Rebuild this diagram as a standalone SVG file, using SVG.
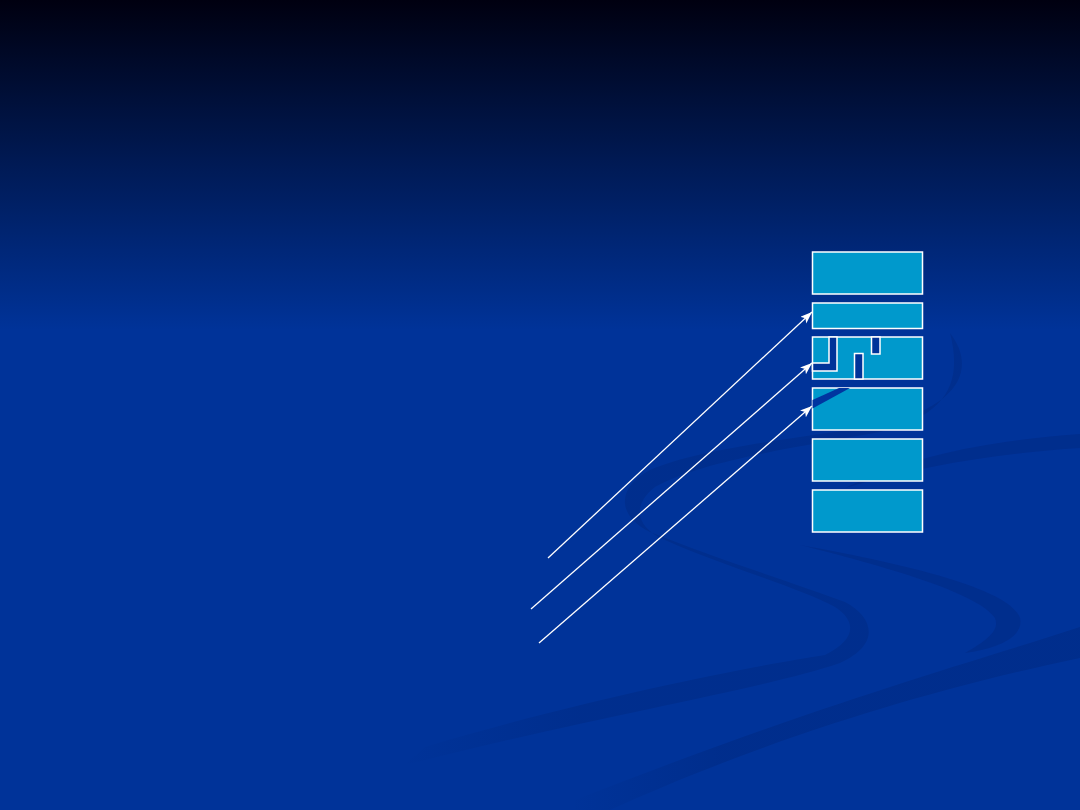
<svg xmlns="http://www.w3.org/2000/svg" width="1080" height="810" viewBox="0 0 1080 810">
  <defs>
    <linearGradient id="bg" x1="0" y1="0" x2="0" y2="330" gradientUnits="userSpaceOnUse">
      <stop offset="0" stop-color="#000010"/>
      <stop offset="0.5" stop-color="#001a55"/>
      <stop offset="1" stop-color="#003399"/>
    </linearGradient>
    <linearGradient id="fadeS" x1="400" y1="0" x2="580" y2="0" gradientUnits="userSpaceOnUse">
      <stop offset="0" stop-color="#002a84" stop-opacity="0"/>
      <stop offset="1" stop-color="#002a84" stop-opacity="0.55"/>
    </linearGradient>
    <linearGradient id="fadeB" x1="570" y1="0" x2="720" y2="0" gradientUnits="userSpaceOnUse">
      <stop offset="0" stop-color="#002a84" stop-opacity="0"/>
      <stop offset="1" stop-color="#002a84" stop-opacity="0.6"/>
    </linearGradient>
    <marker id="arrow" markerUnits="userSpaceOnUse" markerWidth="13" markerHeight="10" refX="12" refY="4.5" orient="auto">
      <path d="M0,0 L12,4.5 L0,9 L3,4.5 Z" fill="#ffffff"/>
    </marker>
    <style>
      .swoosh { fill: #002a84; fill-opacity: 0.55; stroke: none; }
      .box { fill: #0099cc; stroke: #ffffff; stroke-width: 1.5; }
      .crack { fill: #003399; stroke: #ffffff; stroke-width: 1.5; }
      .conn { stroke: #ffffff; stroke-width: 1.3; fill: none; marker-end: url(#arrow); }
    </style>
  </defs>

  <g id="background">
    <rect x="0" y="0" width="1080" height="810" fill="url(#bg)"/>
    <path fill="url(#fadeS)" d="M950,333 C975,365 965,405 880,425 C800,438 700,448 650,470 C618,486 615,515 650,532 C720,560 800,585 845,602 C875,618 880,645 840,663 C760,690 600,715 405,765 L425,747 C600,695 760,665 825,655 C855,640 858,622 835,607 C800,588 720,565 665,540 C635,527 632,505 655,487 C700,462 790,448 880,432 C950,415 962,380 950,333 Z"/>
    <path class="swoosh" d="M800,545 C900,563 1010,588 1020,618 C1024,636 1000,648 965,653 C988,640 1000,630 995,618 C980,595 900,570 800,545 Z"/>
    <path class="swoosh" d="M1080,434 C1000,440 920,452 845,488 C920,466 1000,453 1080,448 Z"/>
    <path fill="url(#fadeB)" d="M1080,627 C980,660 830,700 575,800 L575,810 L610,810 C720,760 880,700 1080,658 Z"/>
  </g>

  <g id="node-1"><rect class="box" x="812.5" y="252" width="110" height="42"/></g>
  <g id="node-2"><rect class="box" x="812.5" y="303" width="110" height="25.5"/></g>
  <g id="node-3">
    <rect class="box" x="812.5" y="337" width="110" height="42"/>
    <polygon class="crack" points="829,337 829,363 812.5,363 812.5,371 837,371 837,337"/>
    <rect class="crack" x="871.5" y="337" width="8.5" height="17"/>
    <rect class="crack" x="854.5" y="353.5" width="8.5" height="25.5"/>
  </g>
  <g id="node-4">
    <rect class="box" x="812.5" y="388" width="110" height="42"/>
    <polygon points="812.5,400 839,388 850,388 812.5,408.5" fill="#0035a0"/>
  </g>
  <g id="node-5"><rect class="box" x="812.5" y="439" width="110" height="42"/></g>
  <g id="node-6"><rect class="box" x="812.5" y="490" width="110" height="42"/></g>

  <g id="connectors">
    <line class="conn" x1="548" y1="558" x2="812" y2="312"/>
    <line class="conn" x1="531" y1="609" x2="812" y2="363"/>
    <line class="conn" x1="539" y1="643" x2="812" y2="406"/>
  </g>
</svg>
